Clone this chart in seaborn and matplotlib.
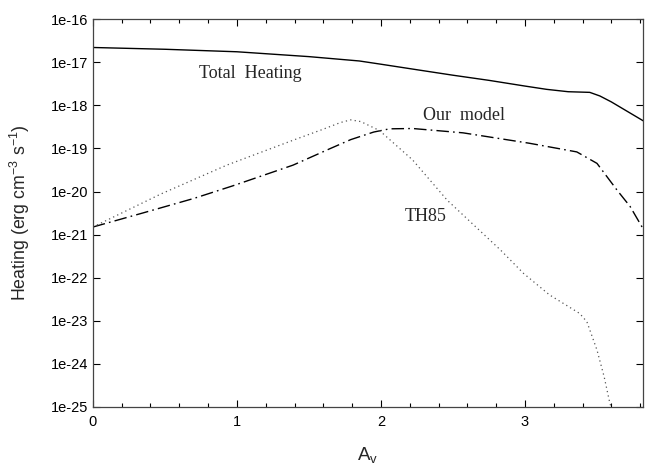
import numpy as np
import pandas as pd
import matplotlib
matplotlib.use("Agg")
import matplotlib.pyplot as plt
import matplotlib.ticker as mticker
import seaborn as sns

# Heating rates versus visual extinction A_v
total_av = [0.0, 0.5, 1.0, 1.5, 1.85, 2.0, 2.25, 2.5, 2.75, 3.0, 3.15, 3.3, 3.45,
            3.52, 3.6, 3.7, 3.83]
total_heat = [2.2e-17, 2.0e-17, 1.75e-17, 1.35e-17, 1.07e-17, 9.0e-18, 6.7e-18,
              5.0e-18, 3.8e-18, 2.8e-18, 2.35e-18, 2.07e-18, 2.0e-18, 1.65e-18,
              1.2e-18, 7.6e-19, 4.2e-19]

model_av = [0.0, 0.35, 0.7, 0.97, 1.39, 1.65, 1.79, 1.95, 2.06, 2.22, 2.57,
            3.03, 3.36, 3.5, 3.64, 3.73, 3.83]
model_heat = [1.5e-21, 3.2e-21, 6.9e-21, 1.35e-20, 4.1e-20, 1.0e-19, 1.6e-19,
              2.4e-19, 2.85e-19, 2.9e-19, 2.3e-19, 1.32e-19, 8.3e-20, 4.5e-20,
              1.07e-20, 4.5e-21, 1.2e-21]

th85_av = [0.0, 0.47, 0.93, 1.39, 1.6, 1.72, 1.79, 1.86, 1.99, 2.22, 2.46,
           2.83, 2.99, 3.17, 3.38, 3.43, 3.5, 3.55, 3.59, 3.61]
th85_heat = [1.5e-21, 8.7e-21, 4.1e-20, 1.55e-19, 2.8e-19, 4.0e-19, 4.6e-19,
             4.2e-19, 2.6e-19, 5.4e-20, 6.3e-21, 4.4e-22, 1.26e-22, 4.0e-23,
             1.48e-23, 9.5e-24, 2.1e-24, 5.0e-25, 1.2e-25, 8e-26]

y_ticks = [1e-25, 1e-24, 1e-23, 1e-22, 1e-21, 1e-20, 1e-19, 1e-18, 1e-17, 1e-16]
y_tick_labels = ["1e-25", "1e-24", "1e-23", "1e-22", "1e-21",
                 "1e-20", "1e-19", "1e-18", "1e-17", "1e-16"]
x_ticks = [0, 1, 2, 3]

sns.set_style("ticks")
plt.rcParams["font.family"] = ["Liberation Sans", "DejaVu Sans"]
plt.rcParams["mathtext.fontset"] = "custom"
plt.rcParams["mathtext.rm"] = "Liberation Sans"

fig = plt.figure(figsize=(6.45, 4.67), dpi=100)
ax = fig.add_axes([0.144, 0.1285, 0.853, 0.8305])

total_df = pd.DataFrame({"av": total_av, "heat": total_heat})
model_df = pd.DataFrame({"av": model_av, "heat": model_heat})
th85_df = pd.DataFrame({"av": th85_av, "heat": th85_heat})

sns.lineplot(data=total_df, x="av", y="heat", ax=ax, color="black", lw=1.0)
sns.lineplot(data=model_df, x="av", y="heat", ax=ax, color="black", lw=1.0
             ).lines[-1].set_dashes([9, 3, 1.2, 3])
sns.lineplot(data=th85_df, x="av", y="heat", ax=ax, color="#555555", lw=0.9
             ).lines[-1].set_dashes([1, 2.6])

ax.set_yscale("log")
ax.set_xlim(0, 3.82)
ax.set_ylim(1e-25, 1e-16)
ax.set_yticks(y_ticks)
ax.set_yticklabels(y_tick_labels)
ax.yaxis.set_minor_locator(mticker.NullLocator())
ax.set_xticks(x_ticks)
ax.xaxis.set_minor_locator(mticker.MultipleLocator(0.2))

ax.tick_params(axis="both", which="both", direction="in", top=True, right=True,
               colors="black", labelsize=10.5, width=0.8)
ax.tick_params(which="major", length=5)
ax.tick_params(which="minor", length=3)
ax.tick_params(axis="x", pad=6)
for sp in ax.spines.values():
    sp.set_color("#444444")
    sp.set_linewidth(0.9)

ax.set_xlabel(r"A$_{\mathrm{v}}$", fontsize=13.5, labelpad=12)
ax.set_ylabel(r"Heating (erg cm$^{\mathrm{-3}}$ s$^{\mathrm{-1}}$)", fontsize=12.8,
              labelpad=13)

serif = ["Liberation Serif", "DejaVu Serif"]
ax.text(1.09, 10**-17.25, "Total  Heating", family=serif, fontsize=13,
        ha="center", va="center")
ax.text(2.58, 10**-18.23, "Our  model", family=serif, fontsize=13,
        ha="center", va="center")
ax.text(2.31, 10**-20.59, "TH85", family=serif, fontsize=13,
        ha="center", va="center")

fig.savefig("out.png", dpi=100)
